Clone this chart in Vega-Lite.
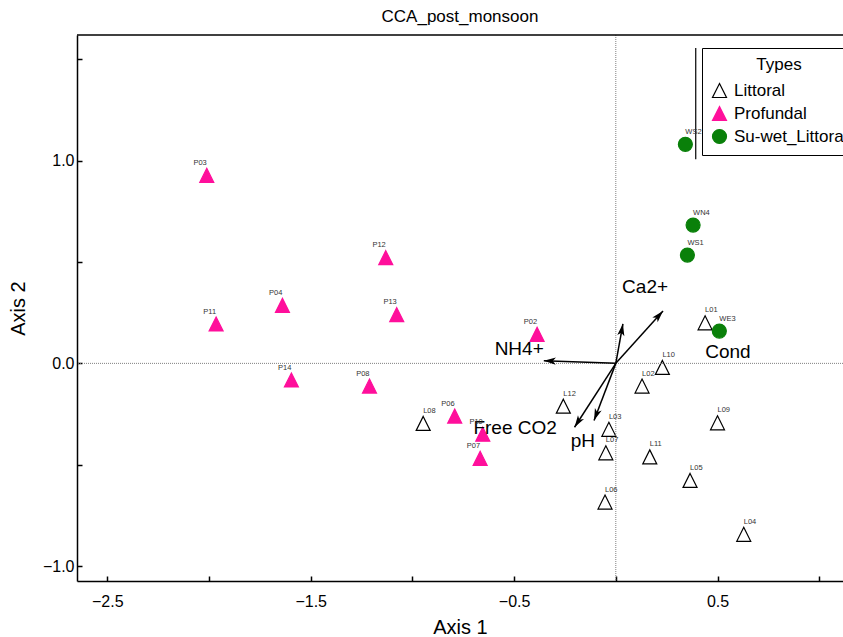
{
  "$schema": "https://vega.github.io/schema/vega-lite/v6.json",
  "width": 766,
  "height": 546,
  "autosize": {"type": "none"},
  "padding": {"left": 77, "top": 35, "right": 0, "bottom": 56},
  "background": "white",
  "title": {"text": "CCA_post_monsoon", "fontSize": 17, "fontWeight": "normal", "font": "Liberation Sans", "color": "black", "offset": 8, "anchor": "middle"},
  "config": {
    "view": {"stroke": null},
    "font": "Liberation Sans",
    "axis": {"domainColor": "black", "domainWidth": 1.5, "tickColor": "black", "tickWidth": 1.5, "tickSize": -5, "labelColor": "black", "labelFontSize": 16, "titleFontSize": 20, "titleFontWeight": "normal", "titleColor": "black", "grid": false, "labelFont": "Liberation Sans", "titleFont": "Liberation Sans"}
  },
  "datasets": {
    "sites": [
      {"site": "P03", "Type": "Profundal", "x": -2.011, "y": 0.927},
      {"site": "P12", "Type": "Profundal", "x": -1.131, "y": 0.521},
      {"site": "P04", "Type": "Profundal", "x": -1.639, "y": 0.286},
      {"site": "P11", "Type": "Profundal", "x": -1.965, "y": 0.194},
      {"site": "P13", "Type": "Profundal", "x": -1.077, "y": 0.240},
      {"site": "P02", "Type": "Profundal", "x": -0.387, "y": 0.143},
      {"site": "P14", "Type": "Profundal", "x": -1.595, "y": -0.082},
      {"site": "P08", "Type": "Profundal", "x": -1.211, "y": -0.112},
      {"site": "P06", "Type": "Profundal", "x": -0.792, "y": -0.260},
      {"site": "P10", "Type": "Profundal", "x": -0.654, "y": -0.349},
      {"site": "P07", "Type": "Profundal", "x": -0.667, "y": -0.468},
      {"site": "L01", "Type": "Littoral", "x": 0.439, "y": 0.200},
      {"site": "L10", "Type": "Littoral", "x": 0.229, "y": -0.020},
      {"site": "L02", "Type": "Littoral", "x": 0.129, "y": -0.112},
      {"site": "L12", "Type": "Littoral", "x": -0.258, "y": -0.211},
      {"site": "L08", "Type": "Littoral", "x": -0.947, "y": -0.296},
      {"site": "L03", "Type": "Littoral", "x": -0.034, "y": -0.325},
      {"site": "L07", "Type": "Littoral", "x": -0.049, "y": -0.441},
      {"site": "L09", "Type": "Littoral", "x": 0.500, "y": -0.293},
      {"site": "L11", "Type": "Littoral", "x": 0.167, "y": -0.461},
      {"site": "L05", "Type": "Littoral", "x": 0.365, "y": -0.577},
      {"site": "L06", "Type": "Littoral", "x": -0.053, "y": -0.684},
      {"site": "L04", "Type": "Littoral", "x": 0.629, "y": -0.843},
      {"site": "WS2", "Type": "Su-wet_Littoral", "x": 0.342, "y": 1.080},
      {"site": "WN4", "Type": "Su-wet_Littoral", "x": 0.380, "y": 0.682},
      {"site": "WS1", "Type": "Su-wet_Littoral", "x": 0.352, "y": 0.534},
      {"site": "WE3", "Type": "Su-wet_Littoral", "x": 0.509, "y": 0.159}
    ],
    "arrows": [
      {"var": "NH4+", "x": -0.354, "y": 0.013, "lx": -0.475, "ly": 0.071},
      {"var": "Ca2+", "x": 0.035, "y": 0.195, "lx": 0.144, "ly": 0.378},
      {"var": "Cond", "x": 0.232, "y": 0.258, "lx": 0.551, "ly": 0.057},
      {"var": "Free CO2", "x": -0.203, "y": -0.315, "lx": -0.495, "ly": -0.321},
      {"var": "pH", "x": -0.107, "y": -0.282, "lx": -0.162, "ly": -0.382}
    ]
  },
  "layer": [
    {
      "data": {"name": "sites"},
      "mark": {"type": "point", "opacity": 1, "strokeWidth": 1.2},
      "encoding": {
        "x": {"field": "x", "type": "quantitative", "title": "Axis 1",
          "scale": {"domain": [-2.649, 1.117], "nice": false, "zero": false},
          "axis": {"values": [-2.5, -2, -1.5, -1, -0.5, 0, 0.5, 1], "labelExpr": "(datum.value*2) % 2 != 0 ? format(datum.value, '.1f') : ''", "labelPadding": 17, "titlePadding": 8}},
        "y": {"field": "y", "type": "quantitative", "title": "Axis 2",
          "scale": {"domain": [-1.073, 1.619], "nice": false, "zero": false},
          "axis": {"values": [-1, -0.5, 0, 0.5, 1, 1.5], "labelExpr": "(datum.value*2) % 2 == 0 ? format(datum.value, '.1f') : ''", "labelPadding": 8, "titlePadding": 14}},
        "shape": {"field": "Type", "type": "nominal", "scale": {"domain": ["Littoral", "Profundal", "Su-wet_Littoral"], "range": ["M0,-1L1,1L-1,1Z", "M0,-1L1,1L-1,1Z", "circle"]},
          "legend": {"title": "Types", "orient": "none", "legendX": 625, "legendY": 13, "strokeColor": "black", "fillColor": "white", "padding": 9, "titleFontSize": 17, "titleFontWeight": "normal", "titleColor": "black", "titleAnchor": "middle", "titlePadding": 8, "labelFontSize": 17, "labelColor": "black", "labelOffset": 6, "rowPadding": 4, "symbolStrokeWidth": 1.2,
            "encode": {"legend": {"update": {"strokeWidth": {"value": 1.5}}}}}},
        "fill": {"field": "Type", "type": "nominal", "scale": {"domain": ["Littoral", "Profundal", "Su-wet_Littoral"], "range": ["white", "#ff0f9b", "#0a800a"]},
          "legend": {"title": "Types", "orient": "none", "legendX": 625, "legendY": 13}},
        "stroke": {"field": "Type", "type": "nominal", "scale": {"domain": ["Littoral", "Profundal", "Su-wet_Littoral"], "range": ["black", "#ff0f9b", "#0a800a"]},
          "legend": {"title": "Types", "orient": "none", "legendX": 625, "legendY": 13}},
        "size": {"field": "Type", "type": "nominal", "scale": {"domain": ["Littoral", "Profundal", "Su-wet_Littoral"], "range": [196, 196, 165]},
          "legend": {"title": "Types", "orient": "none", "legendX": 625, "legendY": 13}}
      }
    },
    {
      "data": {"values": [{"z": 0}]},
      "mark": {"type": "rule", "strokeDash": [1, 1], "color": "#808080", "strokeWidth": 1},
      "encoding": {"x": {"field": "z", "type": "quantitative", "title": "Axis 1"}}
    },
    {
      "data": {"values": [{"z": 0}]},
      "mark": {"type": "rule", "strokeDash": [1, 1], "color": "#808080", "strokeWidth": 1},
      "encoding": {"y": {"field": "z", "type": "quantitative", "title": "Axis 2"}}
    },
    {
      "data": {"values": [{"z": 1.619}]},
      "mark": {"type": "rule", "color": "black", "strokeWidth": 1.5},
      "encoding": {"y": {"field": "z", "type": "quantitative", "title": "Axis 2"}}
    },
    {
      "data": {"values": [{"x": 0.393, "y": 1.555, "y2": 1.007}]},
      "mark": {"type": "rule", "color": "black", "strokeWidth": 1.2},
      "encoding": {"x": {"field": "x", "type": "quantitative", "title": "Axis 1"}, "y": {"field": "y", "type": "quantitative", "title": "Axis 2"}, "y2": {"field": "y2"}}
    },
    {
      "data": {"name": "arrows"},
      "mark": {"type": "rule", "color": "black", "strokeWidth": 1.5},
      "encoding": {"x": {"field": "x", "type": "quantitative", "title": "Axis 1"}, "y": {"field": "y", "type": "quantitative", "title": "Axis 2"}, "x2": {"datum": 0}, "y2": {"datum": 0}}
    },
    {
      "data": {"name": "arrows"},
      "transform": [{"calculate": "atan2(datum.x, datum.y) * 180 / PI", "as": "ang"}],
      "mark": {"type": "point", "shape": "M0,0L-0.3,1L0,0.75L0.3,1Z", "size": 576, "filled": true, "color": "black", "opacity": 1, "strokeWidth": 0},
      "encoding": {"x": {"field": "x", "type": "quantitative", "title": "Axis 1"}, "y": {"field": "y", "type": "quantitative", "title": "Axis 2"}, "angle": {"field": "ang", "type": "quantitative", "scale": null}}
    },
    {
      "data": {"name": "arrows"},
      "mark": {"type": "text", "fontSize": 19, "color": "black", "align": "center", "baseline": "middle", "font": "Liberation Sans"},
      "encoding": {"x": {"field": "lx", "type": "quantitative", "title": "Axis 1"}, "y": {"field": "ly", "type": "quantitative", "title": "Axis 2"}, "text": {"field": "var"}}
    },
    {
      "data": {"name": "sites"},
      "transform": [{"filter": "datum.Type == 'Profundal'"}],
      "mark": {"type": "text", "fontSize": 7.5, "color": "#333333", "align": "right", "baseline": "middle", "dy": -12.5, "font": "Liberation Sans"},
      "encoding": {"x": {"field": "x", "type": "quantitative", "title": "Axis 1"}, "y": {"field": "y", "type": "quantitative", "title": "Axis 2"}, "text": {"field": "site"}}
    },
    {
      "data": {"name": "sites"},
      "transform": [{"filter": "datum.Type != 'Profundal'"}],
      "mark": {"type": "text", "fontSize": 7.5, "color": "#333333", "align": "left", "baseline": "middle", "dy": -12.5, "font": "Liberation Sans"},
      "encoding": {"x": {"field": "x", "type": "quantitative", "title": "Axis 1"}, "y": {"field": "y", "type": "quantitative", "title": "Axis 2"}, "text": {"field": "site"}}
    }
  ]
}
